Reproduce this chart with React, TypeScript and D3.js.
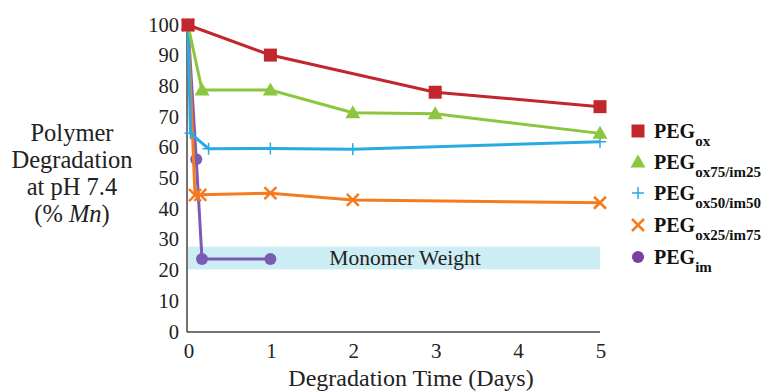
import React from "react";
import * as d3 from "d3";

const xTicks = [0, 1, 2, 3, 4, 5];
const yTicks = [0, 10, 20, 30, 40, 50, 60, 70, 80, 90, 100];

const pegOxX = [0, 1, 3, 5];
const pegOxY = [100, 90.2, 78.1, 73.4];
const peg75X = [0, 0.17, 1, 2, 3, 5];
const peg75Y = [100, 78.8, 78.8, 71.4, 71.1, 64.7];
const peg50X = [0, 0.03, 0.25, 1, 2, 5];
const peg50Y = [100, 64.7, 59.7, 59.8, 59.5, 62];
const peg25X = [0, 0.085, 0.15, 1, 2, 5];
const peg25Y = [100, 44.6, 44.7, 45.2, 43, 42.1];
const pegImX = [0, 0.1, 0.17, 1];
const pegImY = [100, 56.3, 23.8, 23.8];

const bandLow = 20.4;
const bandHigh = 27.8;
const bandLabel = "Monomer Weight";

const seriesNames = ["ox", "ox75/im25", "ox50/im50", "ox25/im75", "im"];
const seriesColors = ["#c1272d", "#8cc63f", "#29abe2", "#f47b20", "#7b3fa0"];
const lineColors = ["#c1272d", "#8cc63f", "#29abe2", "#f47b20", "#7a5cb5"];
const markerKinds = ["square", "triangle", "plus", "cross", "circle"];

const FONT = "'Liberation Serif', 'Times New Roman', Times, serif";

function Marker({ kind, x, y, color }: { kind: string; x: number; y: number; color: string }) {
  if (kind === "square") return <rect x={x - 6.5} y={y - 6.5} width={13} height={13} fill={color} />;
  if (kind === "triangle")
    return <path d={`M${x},${y - 7.5}L${x + 7.5},${y + 5.5}L${x - 7.5},${y + 5.5}Z`} fill={color} />;
  if (kind === "circle") return <circle cx={x} cy={y} r={6} fill={color} />;
  if (kind === "plus")
    return (
      <path d={`M${x - 6},${y}L${x + 6},${y}M${x},${y - 6}L${x},${y + 6}`} stroke={color} strokeWidth={1.5} />
    );
  return (
    <path d={`M${x - 6},${y - 6}L${x + 6},${y + 6}M${x + 6},${y - 6}L${x - 6},${y + 6}`} stroke={color} strokeWidth={2.5} />
  );
}

export default function App() {
  const W = 768;
  const H = 392;
  const x = d3.scaleLinear().domain([0, 5]).range([188, 600]);
  const y = d3.scaleLinear().domain([0, 100]).range([332, 25]);
  const line = d3
    .line<[number, number]>()
    .x((d) => x(d[0]))
    .y((d) => y(d[1]));

  const series = [
    [pegOxX, pegOxY],
    [peg75X, peg75Y],
    [peg50X, peg50Y],
    [peg25X, peg25Y],
    [pegImX, pegImY],
  ];
  const drawOrder = [4, 3, 2, 1, 0];
  const legendY = [131, 162, 193, 225, 257];

  return (
    <svg width={W} height={H} style={{ position: "absolute", left: 0, top: 0, background: "#fff", fontFamily: FONT }}>
      {/* band */}
      <rect x={x(0)} y={y(bandHigh)} width={x(5) - x(0)} height={y(bandLow) - y(bandHigh)} fill="#cdedf4" />
      <text x={405} y={265} fontSize={21.5} textAnchor="middle" fill="#222">
        {bandLabel}
      </text>

      {/* axes */}
      <line x1={x(0) - 1} x2={x(0) - 1} y1={y(100)} y2={y(0)} stroke="#444" strokeWidth={1.5} />
      <line x1={x(0) - 1} x2={x(5)} y1={y(0)} y2={y(0)} stroke="#444" strokeWidth={1.5} />
      {yTicks.map((t) => (
        <text key={t} x={179} y={y(t) + 6.5} fontSize={20.5} textAnchor="end" fill="#222">
          {t}
        </text>
      ))}
      {xTicks.map((t) => (
        <text key={t} x={x(t) + 1} y={358} fontSize={21} textAnchor="middle" fill="#222">
          {t}
        </text>
      ))}
      <text x={411} y={386} fontSize={24} textAnchor="middle" fill="#222">
        Degradation Time (Days)
      </text>
      <g fontSize={24.5} textAnchor="middle" fill="#222">
        <text x={72} y={141}>Polymer</text>
        <text x={72} y={168}>Degradation</text>
        <text x={72} y={195}>at pH 7.4</text>
        <text x={72} y={222}>
          (% <tspan fontStyle="italic">Mn</tspan>)
        </text>
      </g>

      {/* lines */}
      {drawOrder.map((i) => {
        const [xs, ys] = series[i];
        const pts = xs.map((v, j) => [v, ys[j]] as [number, number]);
        return (
          <g key={i}>
            <path d={line(pts) || ""} fill="none" stroke={lineColors[i]} strokeWidth={3} />
            {pts.map((p, j) => (
              <Marker key={j} kind={markerKinds[i]} x={x(p[0])} y={y(p[1])} color={i === 4 ? lineColors[i] : seriesColors[i]} />
            ))}
          </g>
        );
      })}

      {/* legend */}
      {seriesNames.map((n, i) => (
        <g key={n}>
          <Marker kind={markerKinds[i]} x={638} y={legendY[i]} color={seriesColors[i]} />
          <text x={654} y={legendY[i] + 7} fontSize={20} fontWeight="bold" fill="#111">
            PEG
            <tspan fontSize={15} dy={8}>
              {n}
            </tspan>
          </text>
        </g>
      ))}
    </svg>
  );
}
